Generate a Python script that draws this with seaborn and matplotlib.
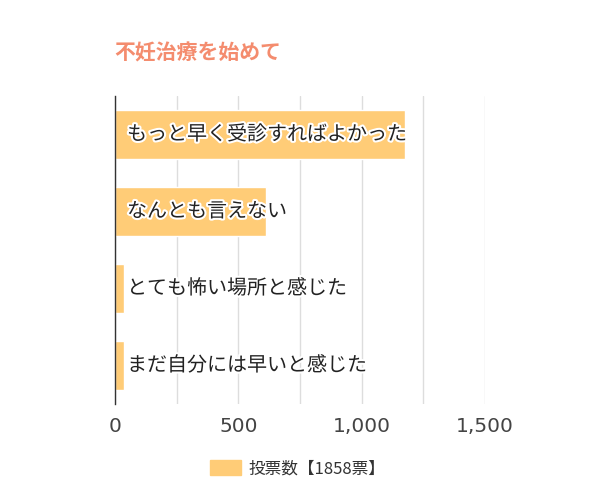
import pandas as pd
import matplotlib
matplotlib.use("Agg")
import matplotlib.pyplot as plt
import matplotlib.patheffects as pe
from matplotlib.patches import Patch
import seaborn as sns

# データ
answers = ['もっと早く受診すればよかった', 'なんとも言えない', 'とても怖い場所と感じた', 'まだ自分には早いと感じた']
votes = [1178, 610, 36, 34]
legend_label = '投票数【1858票】'
title = '不妊治療を始めて'

df = pd.DataFrame({'answer': answers, 'votes': votes})

sns.set_style("white")
plt.rcParams['font.family'] = ['Noto Sans CJK JP', 'DejaVu Sans']

bar_color = '#FFCC77'

fig = plt.figure(figsize=(6, 5), dpi=100)
ax = fig.add_axes([0.192, 0.192, 0.616, 0.616])

sns.barplot(data=df, x='votes', y='answer', orient='h', color=bar_color,
            width=0.63, saturation=1, ax=ax)

ax.set_xlim(0, 1500)
ax.set_xticks([0, 500, 1000, 1500])
ax.set_xticklabels(['0', '500', '1,000', '1,500'], fontsize=14.5, color='#444444',
                   family=['DejaVu Sans'])
ax.set_xticks([250, 750, 1250], minor=True)
ax.tick_params(axis='x', which='both', length=0, pad=9)
ax.grid(axis='x', which='both', color='#dddddd', linewidth=1)
ax.set_axisbelow(True)
ax.set_yticks([])
ax.set_xlabel('')
ax.set_ylabel('')
for s in ['top', 'right', 'bottom']:
    ax.spines[s].set_visible(False)
ax.spines['left'].set_color('#333333')
ax.spines['left'].set_linewidth(1)

# バー内のラベル
for i, a in enumerate(answers):
    ax.text(48, i, a, va='center', ha='left', fontsize=14.4, color='#222222',
            path_effects=[pe.withStroke(linewidth=3, foreground='white')])

fig.text(0.19, 0.893, title, fontsize=15, fontweight='bold', color='#F48C6E',
         ha='left', va='center')

fig.legend(handles=[Patch(color=bar_color, label=legend_label)],
           loc='center', bbox_to_anchor=(0.496, 0.063), frameon=False,
           fontsize=12, handlelength=1.9, handleheight=1.0, handletextpad=0.45,
           labelcolor='#333333')

fig.savefig('out.png', dpi=100)
